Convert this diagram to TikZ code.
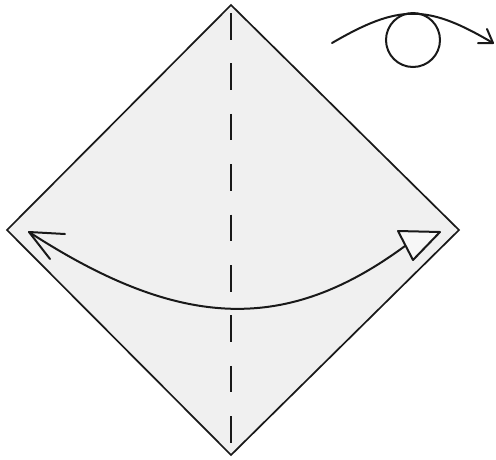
\documentclass[tikz,border=0pt]{standalone}
\begin{document}
\begin{tikzpicture}[x=1pt,y=-1pt,
  paper/.style={fill=black!6, draw=black!90, line width=1.7pt, line join=miter},
  fold/.style={draw=black!90, line width=2.1pt, dash pattern=on 26.5pt off 23.9pt},
  arrowline/.style={draw=black!90, line width=2pt, line cap=round, line join=round}]
\useasboundingbox (0,0) rectangle (496,459);
% square (diamond)
\coordinate (T) at (231,5);
\coordinate (L) at (7,230);
\coordinate (R) at (459,230);
\coordinate (B) at (231,455);
\path[paper] (T) -- (R) -- (B) -- (L) -- cycle;
% valley fold line
\coordinate (F1) at (231,13);
\coordinate (F2) at (231,443);
\draw[fold] (F1) -- (F2);
% fold-and-unfold arrow
\coordinate (A1) at (29,232);
\coordinate (A2) at (405,246);
\draw[arrowline] (A1) .. controls (183,332) and (288,332) .. (A2);
\draw[arrowline] (65,234) -- (A1) -- (50,259);
\coordinate (AT) at (440,232);
\draw[arrowline, fill=black!3] (AT) -- (398,231) -- (413,260) -- cycle;
% turn-over symbol
\coordinate (S1) at (332,43);
\coordinate (S2) at (493,43);
\node[circle, draw=black!90, line width=2pt, minimum size=54pt, inner sep=0pt] (C) at (413,40) {};
\draw[arrowline] (S1) .. controls (399,4) and (427,4) .. (S2);
\draw[arrowline] (478,43) -- (S2) -- (487,29);
\end{tikzpicture}
\end{document}
